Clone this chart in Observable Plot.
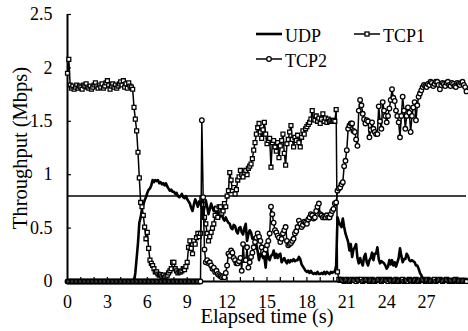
<!DOCTYPE html>
<html><head><meta charset="utf-8">
<script src="https://cdn.jsdelivr.net/npm/d3@7"></script>
<script src="https://cdn.jsdelivr.net/npm/@observablehq/plot@0.6"></script>
<style>
body{margin:0;background:#fff;}
#chart{position:relative;width:468px;height:331px;}
</style></head><body><div id="chart"></div>
<script>
// sampling interval (s); each row below holds 1 s of samples
const step = 0.1;
// UDP throughput (Mbps), t = 0.0 .. 30.0 s
const udp = [
 0,0,0,0,0,0,0,0,0,0,
 0,0,0,0,0,0,0,0,0,0,
 0,0,0,0,0,0,0,0,0,0,
 0,0,0,0,0,0,0,0,0,0,
 0,0,0,0,0,0,0,0,0,0,
 0.00,0.08,0.22,0.36,0.55,0.60,0.68,0.72,0.76,0.79,
 0.83,0.86,0.87,0.90,0.95,0.93,0.95,0.94,0.95,0.92,
 0.93,0.91,0.92,0.90,0.92,0.89,0.87,0.85,0.86,0.84,
 0.84,0.82,0.83,0.80,0.79,0.80,0.82,0.79,0.78,0.80,
 0.77,0.75,0.73,0.69,0.66,0.72,0.77,0.74,0.70,0.75,
 0.74,0.68,0.63,0.70,0.76,0.70,0.63,0.68,0.73,0.69,
 0.66,0.70,0.63,0.65,0.60,0.61,0.63,0.59,0.57,0.60,
 0.57,0.55,0.54,0.50,0.49,0.53,0.52,0.47,0.45,0.50,
 0.51,0.46,0.44,0.50,0.54,0.38,0.44,0.48,0.46,0.40,
 0.41,0.38,0.35,0.28,0.20,0.26,0.25,0.22,0.23,0.13,
 0.29,0.22,0.20,0.24,0.25,0.29,0.22,0.26,0.22,0.25,
 0.26,0.18,0.20,0.22,0.19,0.17,0.20,0.18,0.20,0.19,
 0.21,0.19,0.20,0.20,0.23,0.21,0.16,0.14,0.12,0.10,
 0.09,0.10,0.08,0.10,0.08,0.07,0.08,0.07,0.09,0.07,
 0.07,0.08,0.07,0.09,0.07,0.09,0.08,0.07,0.09,0.08,
 0.09,0.09,0.15,0.60,0.56,0.53,0.51,0.59,0.51,0.45,
 0.41,0.37,0.29,0.35,0.23,0.30,0.32,0.35,0.22,0.17,
 0.22,0.18,0.15,0.23,0.26,0.18,0.15,0.20,0.22,0.27,
 0.20,0.26,0.26,0.32,0.21,0.17,0.19,0.18,0.17,0.15,
 0.12,0.14,0.20,0.16,0.20,0.15,0.18,0.14,0.18,0.22,
 0.31,0.24,0.18,0.21,0.21,0.26,0.24,0.20,0.19,0.20,
 0.19,0.18,0.15,0.15,0.12,0.08,0.06,0.03,0.01,0.00,
 0,0,0,0,0,0,0,0,0,0,
 0,0,0,0,0,0,0,0,0,0,
 0,0,0,0,0,0,0,0,0,0,
 0
];
// TCP1 throughput (Mbps)
const tcp1 = [
 1.95,2.08,1.84,1.81,1.83,1.80,1.82,1.84,1.81,1.83,
 1.82,1.80,1.84,1.83,1.85,1.82,1.81,1.83,1.80,1.82,
 1.84,1.86,1.83,1.81,1.84,1.82,1.85,1.81,1.83,1.86,
 1.88,1.84,1.80,1.83,1.85,1.82,1.84,1.81,1.83,1.85,
 1.87,1.84,1.88,1.82,1.85,1.81,1.86,1.83,1.82,1.80,
 1.63,1.52,1.41,1.21,0.97,0.74,0.70,0.62,0.51,0.40,
 0.46,0.31,0.20,0.17,0.15,0.12,0.09,0.09,0.07,0.06,
 0.065,0.05,0.06,0.04,0.05,0.06,0.08,0.10,0.12,0.18,
 0.18,0.12,0.10,0.08,0.09,0.09,0.10,0.12,0.11,0.14,
 0.18,0.32,0.38,0.31,0.26,0.38,0.35,0.41,0.45,0.42,
 0.45,0.78,0.72,0.60,0.54,0.45,0.38,0.42,0.46,0.50,
 0.54,0.62,0.68,0.60,0.70,0.70,0.64,0.66,0.73,0.70,
 0.80,0.85,1.02,0.95,0.85,0.88,0.82,0.86,0.95,0.98,
 1.04,1.00,0.98,1.02,1.04,1.00,1.06,1.08,1.10,1.15,
 1.23,1.30,1.38,1.44,1.48,1.40,1.34,1.42,1.49,1.38,
 1.29,1.32,1.34,1.07,1.30,1.32,1.26,1.22,1.30,1.16,
 1.27,1.32,1.38,1.20,1.09,1.29,1.33,1.40,1.46,1.33,
 1.26,1.35,1.32,1.37,1.30,1.26,1.35,1.41,1.38,1.43,
 1.45,1.47,1.49,1.52,1.60,1.52,1.51,1.55,1.50,1.53,
 1.48,1.52,1.57,1.50,1.53,1.49,1.52,1.50,1.51,1.50,
 1.51,1.50,1.61,0.09,0.02,0.01,0.02,0.01,0.00,0.01,
 0.02,0.01,0.00,0.01,0.02,0.01,0.01,0.00,0.02,0.01,
 0.01,0.02,0.00,0.01,0.01,0.02,0.01,0.00,0.01,0.02,
 0.01,0.00,0.01,0.01,0.02,0.01,0.00,0.01,0.02,0.01,
 0.01,0.00,0.02,0.01,0.01,0.00,0.01,0.02,0.01,0.00,
 0.01,0.01,0.02,0.00,0.01,0.01,0.00,0.02,0.01,0.01,
 0.00,0.01,0.02,0.01,0.00,0.01,0.01,0.02,0.01,0.00,
 0.01,0.02,0.01,0.00,0.01,0.01,0.02,0.00,0.01,0.01,
 0.02,0.01,0.00,0.01,0.01,0.02,0.01,0.00,0.01,0.01,
 0.00,0.01,0.02,0.01,0.00,0.01,0.01,0.00,0.01,0.01,
 0.00
];
// TCP2 throughput (Mbps)
const tcp2 = [
 0,0,0,0,0,0,0,0,0,0,
 0,0,0,0,0,0,0,0,0,0,
 0,0,0,0,0,0,0,0,0,0,
 0,0,0,0,0,0,0,0,0,0,
 0,0,0,0,0,0,0,0,0,0,
 0,0,0,0,0,0,0,0,0,0,
 0,0,0,0,0,0,0,0,0,0,
 0,0,0,0,0,0,0,0,0,0,
 0,0,0,0,0,0,0,0,0,0,
 0,0,0,0,0,0,0,0,0,0,
 0.00,1.51,0.79,0.30,0.18,0.20,0.17,0.18,0.15,0.12,
 0.13,0.09,0.10,0.07,0.06,0.05,0.04,0.05,0.04,0.08,
 0.15,0.26,0.24,0.29,0.27,0.22,0.20,0.17,0.17,0.19,
 0.22,0.10,0.35,0.20,0.20,0.32,0.13,0.18,0.23,0.27,
 0.32,0.37,0.41,0.45,0.42,0.38,0.32,0.28,0.26,0.30,
 0.34,0.38,0.45,0.70,0.63,0.55,0.48,0.46,0.43,0.41,
 0.37,0.40,0.45,0.48,0.51,0.38,0.34,0.35,0.36,0.38,
 0.40,0.45,0.47,0.51,0.57,0.54,0.51,0.53,0.56,0.55,
 0.54,0.58,0.60,0.63,0.62,0.59,0.60,0.66,0.70,0.73,
 0.63,0.62,0.60,0.61,0.60,0.62,0.60,0.60,0.63,0.66,
 0.68,0.73,0.74,0.85,0.87,0.88,0.91,0.93,1.08,1.13,
 1.23,1.43,1.46,1.48,1.48,1.41,1.40,1.33,1.27,1.60,
 1.70,1.65,1.57,1.52,1.48,1.51,1.50,1.35,1.42,1.49,
 1.43,1.40,1.38,1.38,1.64,1.50,1.43,1.68,1.60,1.55,
 1.49,1.55,1.62,1.70,1.80,1.72,1.69,1.60,1.55,1.49,
 1.35,1.55,1.73,1.60,1.43,1.55,1.63,1.58,1.40,1.55,
 1.63,1.68,1.51,1.65,1.73,1.76,1.79,1.82,1.84,1.83,
 1.82,1.85,1.84,1.87,1.86,1.83,1.85,1.87,1.87,1.84,
 1.80,1.84,1.86,1.85,1.83,1.86,1.87,1.84,1.83,1.86,
 1.85,1.83,1.82,1.86,1.85,1.84,1.86,1.87,1.84,1.82,
 1.78
];
const threshold = [0.8];
const xTicks = [0,3,6,9,12,15,18,21,24,27];
const xTickLabels = ["0","3","6","9","12","15","18","21","24","27"];
const xMinorTicks = [1,2,3,4,5,6,7,8,9,10,11,12,13,14,15,16,17,18,19,20,21,22,23,24,25,26,27,28,29];
const yTicks = [0,0.5,1,1.5,2,2.5];
const yTickLabels = ["0","0.5","1","1.5","2","2.5"];
const seriesNames = ["UDP","TCP1","TCP2"];
const xTitle = "Elapsed time (s)";
const yTitle = "Throughput (Mbps)";

const rows = udp.map((v, i) => ({t: +(i * step).toFixed(1), udp: v, tcp1: tcp1[i], tcp2: tcp2[i]}));

const W = 468, H = 331, mL = 67, mR = 2, mT = 14, mB = 50;
const fw = W - mL - mR, fh = H - mT - mB;
const font = '"Liberation Serif","Times New Roman",serif';

const plot = Plot.plot({
  width: W, height: H,
  marginLeft: mL, marginRight: mR, marginTop: mT, marginBottom: mB,
  style: {fontFamily: font, fontSize: "18px", color: "#000", background: "#fff"},
  x: {domain: [0, 30]},
  y: {domain: [0, 2.5]},
  marks: [
    Plot.axisX({ticks: xTicks, tickFormat: d => xTickLabels[xTicks.indexOf(d)], tickSize: 0, tickPadding: 14, label: null, fontSize: 18}),
    Plot.axisY({ticks: yTicks, tickFormat: d => yTickLabels[yTicks.indexOf(d)], tickSize: 0, tickPadding: 15, label: null, fontSize: 18}),
    Plot.text([xTitle], {frameAnchor: "bottom", dy: 35, lineAnchor: "middle", textAnchor: "middle", fontSize: 20.5}),
    Plot.text([yTitle], {frameAnchor: "left", dx: -47, rotate: -90, lineAnchor: "middle", textAnchor: "middle", fontSize: 20.5}),
    Plot.ruleX([0], {stroke: "#000", strokeWidth: 2}),
    Plot.ruleY([0], {stroke: "#000", strokeWidth: 2}),
    Plot.tickY(yTicks, {y: d => d, insetRight: fw - 4, stroke: "#000", strokeWidth: 1.2}),
    Plot.tickX(xMinorTicks, {x: d => d, insetTop: fh - 4, stroke: "#000", strokeWidth: 1.2}),
    Plot.ruleY(threshold, {stroke: "#000", strokeWidth: 1.5}),
    Plot.line(rows, {x: "t", y: "udp", stroke: "#000", strokeWidth: 2.6}),
    Plot.line(rows, {x: "t", y: "tcp1", stroke: "#000", strokeWidth: 1.5}),
    Plot.dot(rows, {x: "t", y: "tcp1", symbol: "square", r: 2.2, fill: "#fff", stroke: "#000", strokeWidth: 1.3}),
    Plot.line(rows, {x: "t", y: "tcp2", stroke: "#000", strokeWidth: 1.5}),
    Plot.dot(rows, {x: "t", y: "tcp2", symbol: "circle", r: 2.3, fill: "#fff", stroke: "#000", strokeWidth: 1.3})
  ]
});
document.getElementById("chart").appendChild(plot);

// legend
const svg = d3.select(plot);
const legend = [
  {name: seriesNames[0], kind: "none", x: 256, y: 34},
  {name: seriesNames[1], kind: "square", x: 354, y: 34},
  {name: seriesNames[2], kind: "circle", x: 256, y: 59}
];
const lg = svg.append("g").attr("font-family", font).attr("font-size", 18).attr("text-anchor", "start");
for (const it of legend) {
  lg.append("line").attr("x1", it.x).attr("x2", it.x + 26).attr("y1", it.y).attr("y2", it.y)
    .attr("stroke", "#000").attr("stroke-width", it.kind === "none" ? 2.6 : 1.5);
  if (it.kind === "square") {
    lg.append("rect").attr("x", it.x + 13 - 2).attr("y", it.y - 2).attr("width", 4).attr("height", 4)
      .attr("fill", "#fff").attr("stroke", "#000").attr("stroke-width", 1.3);
  } else if (it.kind === "circle") {
    lg.append("circle").attr("cx", it.x + 13).attr("cy", it.y).attr("r", 2.3)
      .attr("fill", "#fff").attr("stroke", "#000").attr("stroke-width", 1.3);
  }
  lg.append("text").attr("x", it.x + 29).attr("y", it.y + 7.5).attr("text-anchor", "start").text(it.name);
}
</script></body></html>
